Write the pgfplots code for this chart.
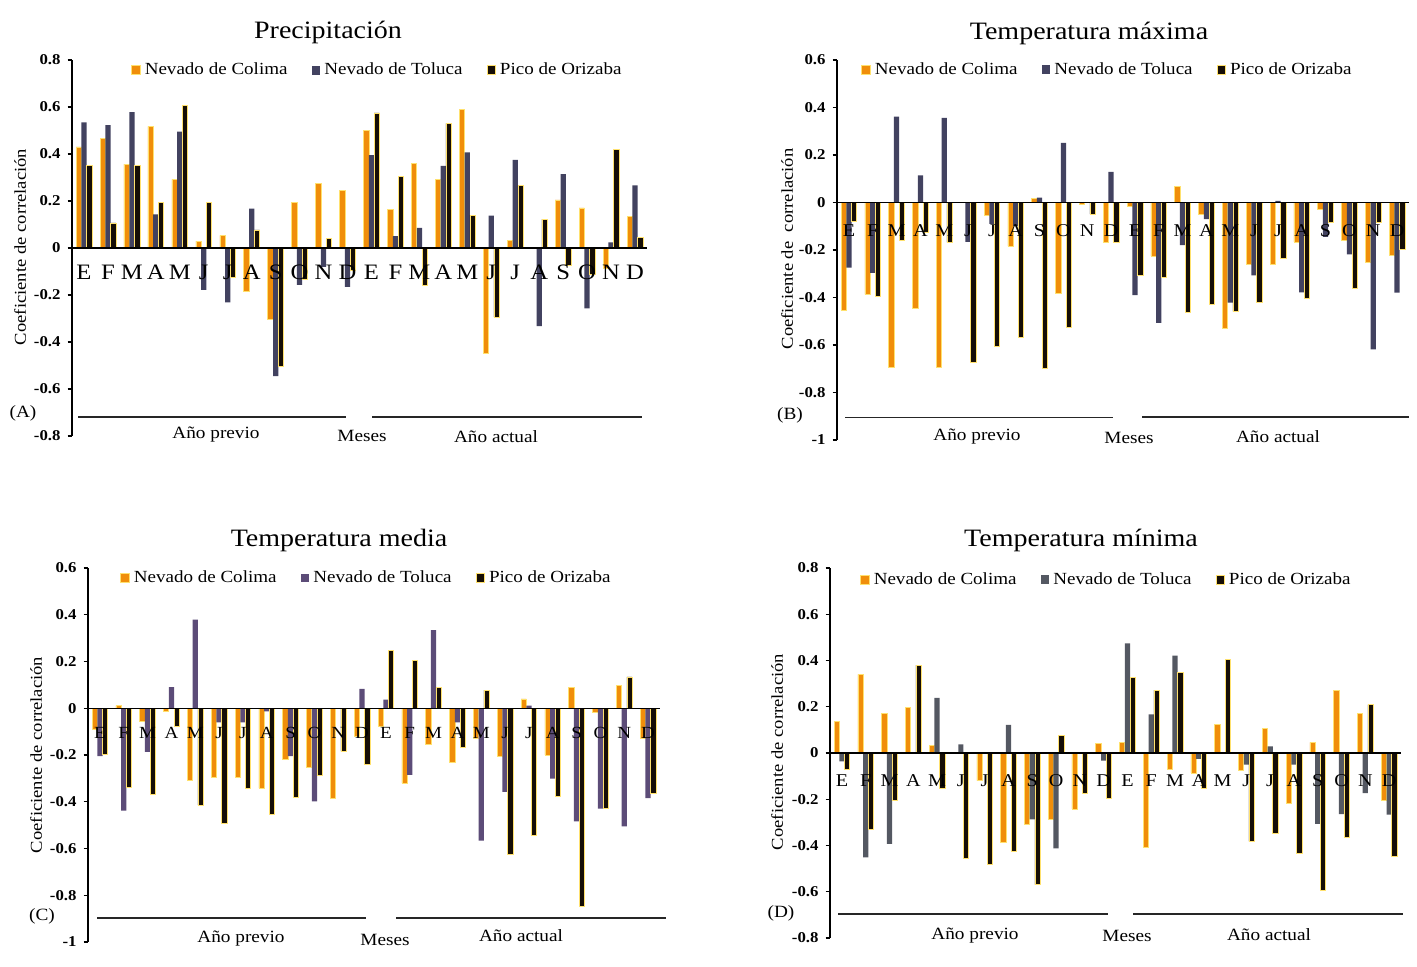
\documentclass[border=0pt]{standalone}
\usepackage{pgfplots}
\pgfplotsset{compat=1.18}
\usepackage{pgfplotstable}
\usepackage{fontspec}
\setmainfont{Liberation Serif}[FakeStretch=1.12]

\definecolor{colima}{RGB}{240,142,10}
\definecolor{glow}{RGB}{255,225,110}
\definecolor{tolA}{RGB}{66,66,96}
\definecolor{tolC}{RGB}{92,76,120}
\definecolor{tolD}{RGB}{84,88,98}
\definecolor{ori}{RGB}{22,14,6}

\pgfplotstableread{
x col tol ori
0 0.43 0.535 0.352
1 0.468 0.523 0.107
2 0.357 0.578 0.352
3 0.518 0.143 0.195
4 0.292 0.495 0.606
5 0.029 -0.178 0.195
6 0.054 -0.231 -0.126
7 -0.185 0.168 0.077
8 -0.304 -0.545 -0.504
9 0.195 -0.157 -0.134
10 0.275 -0.08 0.04
11 0.244 -0.165 -0.093
12 0.50 0.395 0.575
13 0.163 0.05 0.305
14 0.361 0.086 -0.16
15 0.292 0.35 0.53
16 0.59 0.407 0.14
17 -0.449 0.138 -0.294
18 0.031 0.375 0.265
19 0.0 -0.332 0.123
20 0.205 0.314 -0.074
21 0.171 -0.257 -0.114
22 -0.086 0.024 0.418
23 0.133 0.267 0.046
}\dataA

\pgfplotstableread{
x col tol ori
0 -0.453 -0.274 -0.081
1 -0.387 -0.296 -0.393
2 -0.692 0.361 -0.159
3 -0.446 0.114 -0.124
4 -0.692 0.356 -0.168
5 0.0 -0.166 -0.674
6 -0.056 -0.09 -0.605
7 -0.184 -0.10 -0.568
8 0.017 0.02 -0.699
9 -0.383 0.251 -0.524
10 -0.008 0.0 -0.049
11 -0.166 0.129 -0.166
12 -0.014 -0.39 -0.306
13 -0.225 -0.507 -0.316
14 0.069 -0.18 -0.463
15 -0.049 -0.07 -0.429
16 -0.531 -0.422 -0.458
17 -0.26 -0.307 -0.42
18 -0.261 0.007 -0.236
19 -0.166 -0.378 -0.404
20 -0.028 -0.145 -0.084
21 -0.159 -0.219 -0.362
22 -0.253 -0.619 -0.084
23 -0.222 -0.38 -0.196
}\dataB

\pgfplotstableread{
x col tol ori
0 -0.091 -0.205 -0.195
1 0.011 -0.438 -0.337
2 -0.056 -0.187 -0.369
3 -0.013 0.09 -0.077
4 -0.31 0.379 -0.415
5 -0.294 -0.06 -0.494
6 -0.294 -0.06 -0.342
7 -0.342 -0.013 -0.452
8 -0.22 -0.205 -0.381
9 -0.252 -0.398 -0.287
10 -0.385 0.0 -0.184
11 -0.12 0.083 -0.241
12 -0.077 0.037 0.247
13 -0.32 -0.285 0.205
14 -0.155 0.334 0.09
15 -0.23 -0.06 -0.165
16 -0.13 -0.566 0.077
17 -0.205 -0.358 -0.626
18 0.04 0.011 -0.543
19 -0.20 -0.301 -0.377
20 0.09 -0.484 -0.847
21 -0.017 -0.429 -0.427
22 0.098 -0.505 0.134
23 -0.13 -0.385 -0.362
}\dataC

\pgfplotstableread{
x col tol ori
0 0.135 -0.036 -0.069
1 0.34 -0.451 -0.331
2 0.171 -0.393 -0.203
3 0.196 0.0 0.38
4 0.032 0.238 -0.153
5 0.0 0.037 -0.455
6 -0.12 0.0 -0.483
7 -0.386 0.122 -0.427
8 -0.307 -0.287 -0.569
9 -0.288 -0.412 0.075
10 -0.242 0.0 -0.174
11 0.042 -0.033 -0.195
12 0.046 0.474 0.327
13 -0.408 0.167 0.272
14 -0.069 0.421 0.349
15 -0.086 -0.026 -0.151
16 0.125 0.0 0.403
17 -0.076 -0.05 -0.382
18 0.107 0.029 -0.347
19 -0.216 -0.05 -0.434
20 0.046 -0.307 -0.595
21 0.272 -0.264 -0.365
22 0.171 -0.174 0.209
23 -0.203 -0.267 -0.447
}\dataD

\pgfplotsset{
  panel/.style={
    scale only axis, anchor=south west,
    xmin=-0.5, xmax=23.5, enlargelimits=false,
    axis x line=middle, axis y line=left,
    axis line style={-, black, line width=0.6pt},
    axis on top,
    xtick={0,...,23},
    xticklabels={E,F,M,A,M,J,J,A,S,O,N,D,E,F,M,A,M,J,J,A,S,O,N,D},
    xtick style={draw=none},
    ytick style={black, line width=0.6pt},
    tick align=outside, major tick length=2.2pt,
    yticklabel style={font=\fontsize{7.5}{8}\selectfont\bfseries},
    hide obscured x ticks=false, hide obscured y ticks=false,
    ybar, bar width=0.22,
    legend columns=-1,
    legend style={draw=none, fill=none, inner sep=0pt,
      font=\fontsize{8.5}{9}\selectfont,
      /tikz/every even column/.append style={column sep=10pt}},
    legend image code/.code={\fill[##1] (0pt,-2.2pt) rectangle (4.4pt,2.2pt);},
  },
  colbar/.style={fill=colima, draw=glow, line width=0.3pt, bar shift=-0.22},
  oribar/.style={fill=ori, draw=glow, line width=0.3pt, bar shift=0.22},
}

\begin{document}
\begin{tikzpicture}

% (A) Precipitacion
\begin{axis}[panel, at={(36pt,265.5pt)}, width=287.5pt, height=188pt,
  ymin=-0.8, ymax=0.8,
  ytick={-0.8,-0.6,-0.4,-0.2,0,0.2,0.4,0.6,0.8},
  yticklabels={-0.8,-0.6,-0.4,-0.2,0,0.2,0.4,0.6,0.8},
  xticklabel style={anchor=base, yshift=-13.5pt, font=\fontsize{11}{12}\selectfont},
  legend style={at={(0.1026,0.973)}, anchor=west}]
\addplot[colbar] table[x=x,y=col]{\dataA};
\addplot[fill=tolA, draw=none, bar shift=0] table[x=x,y=tol]{\dataA};
\addplot[oribar] table[x=x,y=ori]{\dataA};
\legend{Nevado de Colima, Nevado de Toluca, Pico de Orizaba}
\end{axis}

% (B) Temperatura maxima
\begin{axis}[panel, at={(418.5pt,263.5pt)}, width=286pt, height=190pt,
  ymin=-1, ymax=0.6,
  ytick={-1,-0.8,-0.6,-0.4,-0.2,0,0.2,0.4,0.6},
  yticklabels={-1,-0.8,-0.6,-0.4,-0.2,0,0.2,0.4,0.6},
  xticklabel style={anchor=base, yshift=-14.8pt, font=\fontsize{9}{10}\selectfont},
  legend style={at={(0.042,0.974)}, anchor=west}]
\addplot[colbar] table[x=x,y=col]{\dataB};
\addplot[fill=tolA, draw=none, bar shift=0] table[x=x,y=tol]{\dataB};
\addplot[oribar] table[x=x,y=ori]{\dataB};
\legend{Nevado de Colima, Nevado de Toluca, Pico de Orizaba}
\end{axis}

% (C) Temperatura media
\begin{axis}[panel, at={(44pt,12.5pt)}, width=286pt, height=187pt,
  ymin=-1, ymax=0.6,
  ytick={-1,-0.8,-0.6,-0.4,-0.2,0,0.2,0.4,0.6},
  yticklabels={-1,-0.8,-0.6,-0.4,-0.2,0,0.2,0.4,0.6},
  xticklabel style={anchor=base, yshift=-12.9pt, font=\fontsize{8.5}{9}\selectfont},
  legend style={at={(0.056,0.973)}, anchor=west}]
\addplot[colbar] table[x=x,y=col]{\dataC};
\addplot[fill=tolC, draw=none, bar shift=0] table[x=x,y=tol]{\dataC};
\addplot[oribar] table[x=x,y=ori]{\dataC};
\legend{Nevado de Colima, Nevado de Toluca, Pico de Orizaba}
\end{axis}

% (D) Temperatura minima
\begin{axis}[panel, at={(415pt,14.5pt)}, width=285.5pt, height=185pt,
  ymin=-0.8, ymax=0.8,
  ytick={-0.8,-0.6,-0.4,-0.2,0,0.2,0.4,0.6,0.8},
  yticklabels={-0.8,-0.6,-0.4,-0.2,0,0.2,0.4,0.6,0.8},
  xticklabel style={anchor=base, yshift=-14.7pt, font=\fontsize{9}{10}\selectfont},
  legend style={at={(0.0525,0.968)}, anchor=west}]
\addplot[colbar] table[x=x,y=col]{\dataD};
\addplot[fill=tolD, draw=none, bar shift=0] table[x=x,y=tol]{\dataD};
\addplot[oribar] table[x=x,y=ori]{\dataD};
\legend{Nevado de Colima, Nevado de Toluca, Pico de Orizaba}
\end{axis}

\begin{scope}[x=0.5pt, y=-0.5pt, shift={(0pt,483.5pt)}]
  \tikzset{ann/.style={font=\fontsize{8.6}{9}\selectfont, inner sep=0pt},
           ttl/.style={font=\fontsize{12.5}{13}\selectfont, inner sep=0pt},
           ylab/.style={font=\fontsize{8.3}{9}\selectfont, rotate=90, inner sep=0pt}}
  % titles
  \node[ttl] at (328,32) {Precipitación};
  \node[ttl] at (1089,33) {Temperatura máxima};
  \node[ttl] at (339,540) {Temperatura media};
  \node[ttl] at (1081,540) {Temperatura mínima};
  % y labels
  \node[ylab] at (20,247) {Coeficiente de correlación};
  \node[ylab] at (787,249) {Coeficiente de\ \ correlación};
  \node[ylab] at (36,755) {Coeficiente de correlación};
  \node[ylab] at (777,752) {Coeficiente de correlación};
  % bottom lines
  \draw[line width=0.6pt, black!85] (78,417)--(346,417) (372,417)--(642,417);
  \draw[line width=0.6pt, black!85] (845,417.5)--(1113,417.5) (1142,417)--(1409,417);
  \draw[line width=0.6pt, black!85] (97,918)--(366,918) (396,918)--(666,918);
  \draw[line width=0.6pt, black!85] (838,914)--(1108,914) (1133,914)--(1403,914);
  % bottom texts
  \node[ann] at (216,435) {Año previo};
  \node[ann] at (362,436) {Meses};
  \node[ann] at (496,437) {Año actual};
  \node[ann] at (23,413) {(A)};
  \node[ann] at (977,437) {Año previo};
  \node[ann] at (1129,438) {Meses};
  \node[ann] at (1278,437) {Año actual};
  \node[ann] at (790,415) {(B)};
  \node[ann] at (241,939) {Año previo};
  \node[ann] at (385,940) {Meses};
  \node[ann] at (521,936) {Año actual};
  \node[ann] at (42,916) {(C)};
  \node[ann] at (975,936) {Año previo};
  \node[ann] at (1127,936) {Meses};
  \node[ann] at (1269,935) {Año actual};
  \node[ann] at (781,913) {(D)};
\end{scope}
\pgfresetboundingbox
\useasboundingbox (0,0) rectangle (708.5pt,483.5pt);
\end{tikzpicture}
\end{document}
